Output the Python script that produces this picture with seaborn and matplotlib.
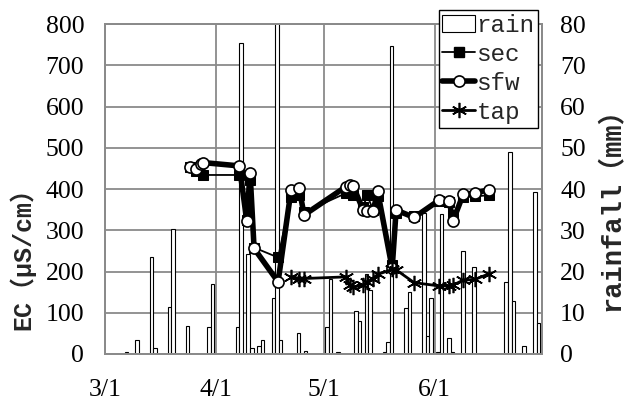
import matplotlib
matplotlib.use("Agg")
import matplotlib.pyplot as plt
from matplotlib.patches import Patch
from matplotlib.lines import Line2D
import numpy as np
import pandas as pd
import seaborn as sns

# ---- data ----
year = 2009
rain_dates = ["3/7", "3/10", "3/14", "3/15", "3/19", "3/20", "3/24", "3/30", "3/31",
              "4/7", "4/8", "4/10", "4/11", "4/13", "4/14", "4/17", "4/18", "4/19", "4/24", "4/26",
              "5/2", "5/3", "5/5", "5/10", "5/11", "5/13", "5/14", "5/18", "5/19", "5/20",
              "5/24", "5/25", "5/29", "5/30", "5/31",
              "6/2", "6/3", "6/5", "6/6", "6/9", "6/12", "6/21", "6/22", "6/23", "6/26", "6/29", "6/30"]
rain_mm = [0.5, 3.5, 23.4, 1.4, 11.3, 30.2, 6.8, 6.5, 17.0,
           6.5, 75.3, 24.2, 1.4, 2.0, 3.5, 13.5, 92.0, 3.5, 5.0, 0.8,
           6.5, 18.3, 0.5, 10.4, 8.0, 19.3, 15.5, 0.5, 2.9, 74.7,
           11.1, 15.0, 34.1, 4.4, 13.5,
           0.5, 33.9, 3.8, 0.5, 24.9, 21.0, 17.4, 49.0, 12.8, 2.0, 39.3, 7.4]

# sampling times, in days after 3/1
sfw_day = [23.74, 25.42, 26.73, 27.46, 37.51, 39.58, 40.50, 41.62, 48.32,
           51.96, 54.19, 55.59, 67.32, 68.30, 69.27, 72.07, 73.18, 74.86, 76.12,
           80.17, 81.28, 86.31, 93.30, 96.09, 97.12, 100.0, 103.35, 107.07]
sfw_ec = [454, 448, 461, 464, 456, 323, 440, 256, 175,
          398, 402, 337, 406, 410, 407, 349, 347, 347, 394,
          208, 349, 331, 373, 372, 322, 387, 390, 398]

sec_day = [23.74, 25.42, 27.46, 37.51, 39.58, 40.50, 41.62, 48.32,
           51.96, 54.19, 55.59, 67.32, 68.30, 69.27, 72.07, 73.18, 74.86, 76.12,
           80.17, 81.28, 86.31, 93.30, 96.09, 97.12, 100.0, 103.35, 107.07]
sec_ec = [454, 444, 434, 434, 325, 423, 258, 234,
          381, 385, 344, 390, 395, 385, 356, 385, 349, 382,
          215, 341, 335, 370, 368, 337, 380, 382, 385]

tap_day = [51.96, 54.19, 55.59, 67.32, 68.30, 69.27, 72.07, 73.18, 74.86, 76.12,
           80.17, 81.28, 86.31, 93.30, 96.09, 97.12, 100.0, 103.35, 107.07]
tap_ec = [187, 183, 183, 187, 167, 162, 167, 175, 183, 193,
          205, 204, 173, 165, 165, 167, 179, 181, 194]

month_ticks = ["3/1", "4/1", "5/1", "6/1", "7/1"]
month_labels = ["3/1", "4/1", "5/1", "6/1", ""]
ec_ticks = [0, 100, 200, 300, 400, 500, 600, 700, 800]
rain_ticks = [0, 10, 20, 30, 40, 50, 60, 70, 80]

# ---- prepare ----
def to_date(md):
    m, d = md.split("/")
    return pd.Timestamp(year=year, month=int(m), day=int(d))

start = to_date("3/1")
rain_x = [to_date(s) for s in rain_dates]
tick_x = [to_date(s) for s in month_ticks]

def frame(days, values):
    return pd.DataFrame({"date": start + pd.to_timedelta(days, unit="D"), "EC": values})

sec_df = frame(sec_day, sec_ec)
sfw_df = frame(sfw_day, sfw_ec)
tap_df = frame(tap_day, tap_ec)

sns.set_theme(style="white")
plt.rcParams["font.family"] = ["Liberation Serif", "Noto Sans CJK JP"]

W, H = 626, 405
fig = plt.figure(figsize=(W / 100, H / 100), dpi=100)
ax = fig.add_axes([105 / W, 1 - 354 / H, (542 - 105) / W, (354 - 24) / H])
ax2 = ax.twinx()
ax.set_zorder(ax2.get_zorder() + 1)
ax.patch.set_visible(False)

grid_c = "#8a8a8a"

# rainfall bars (secondary axis, behind the lines)
ax2.set_axisbelow(True)
ax2.bar(rain_x, rain_mm, width=1.0, color="white", edgecolor="black",
        linewidth=0.8, zorder=2)
ax2.set_ylim(0, 80)
ax2.set_yticks(rain_ticks)
ax2.grid(axis="y", color=grid_c, linewidth=1.3)
for t in tick_x:
    ax2.axvline(t, color=grid_c, linewidth=1.3, zorder=0.5)

# EC lines
sns.lineplot(data=sec_df, x="date", y="EC", ax=ax, sort=False, estimator=None,
             color="black", linewidth=1.3, marker="s", markersize=6.5,
             markerfacecolor="black", markeredgecolor="black", zorder=3)
sns.lineplot(data=sfw_df, x="date", y="EC", ax=ax, sort=False, estimator=None,
             color="black", linewidth=4, marker="o", markersize=8,
             markerfacecolor="white", markeredgecolor="black", markeredgewidth=1.2,
             zorder=4)
sns.lineplot(data=tap_df, x="date", y="EC", ax=ax, sort=False, estimator=None,
             color="black", linewidth=2, marker=(6, 2, 0), markersize=11,
             markeredgewidth=1.2, markeredgecolor="black", zorder=5)

ax.set_xlim(tick_x[0], tick_x[-1])
ax.set_ylim(0, 800)
ax.set_yticks(ec_ticks)
ax.set_xticks(tick_x)
ax.set_xticklabels(month_labels)
ax.set_xlabel("")
ax.set_ylabel("")

for lab in ax.get_xticklabels() + ax.get_yticklabels() + ax2.get_yticklabels():
    lab.set_fontfamily(["Liberation Serif"])
    lab.set_fontsize(18.5)
    lab.set_color("black")
ax.tick_params(axis="both", length=0)
ax.tick_params(axis="y", pad=15)
ax.tick_params(axis="x", pad=18)
ax2.tick_params(axis="y", length=0, pad=13)

for a in (ax, ax2):
    for s in a.spines.values():
        s.set_color(grid_c)
        s.set_linewidth(1.3)

label_font = ["Liberation Mono", "Noto Sans CJK JP"]
fig.text(22 / W, 1 - 253 / H, "EC（μS/cm）", rotation=90, ha="center", va="center",
         fontsize=18, fontweight="bold", family=label_font)
fig.text(612 / W, 1 - 203 / H, "rainfall（mm）", rotation=90, ha="center", va="center",
         fontsize=19.5, fontweight="bold", family=label_font)

handles = [
    Patch(facecolor="white", edgecolor="black", linewidth=0.8),
    Line2D([], [], color="black", linewidth=1.3, marker="s", markersize=6.5),
    Line2D([], [], color="black", linewidth=4, marker="o", markersize=8,
           markerfacecolor="white", markeredgecolor="black", markeredgewidth=1.2),
    Line2D([], [], color="black", linewidth=2, marker=(6, 2, 0), markersize=11,
           markeredgewidth=1.2),
]
leg = fig.legend(handles, ["rain", "sec", "sfw", "tap"], loc="upper right",
                 bbox_to_anchor=(538 / W, 1 - 10 / H), frameon=True, fancybox=False,
                 edgecolor="black", framealpha=1, borderpad=0.15, labelspacing=0.25,
                 handlelength=1.35, handletextpad=0.05, borderaxespad=0,
                 prop={"family": ["Liberation Mono"], "size": 17.5})
leg.get_frame().set_linewidth(1.0)
leg.set_zorder(10)

fig.savefig("out.png", dpi=100, facecolor="white")
